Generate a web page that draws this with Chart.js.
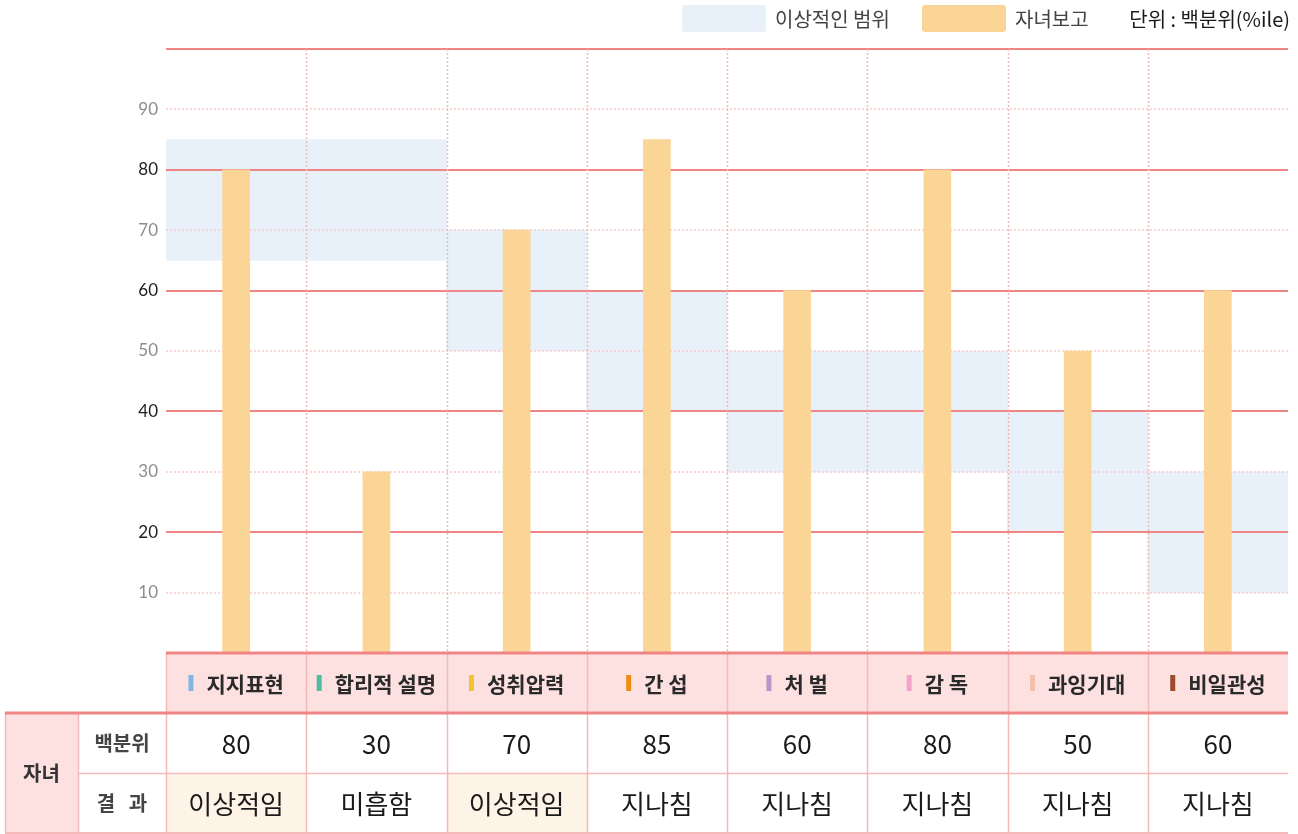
<!DOCTYPE html>
<html>
<head>
<meta charset="utf-8">
<script src="https://cdn.jsdelivr.net/npm/chart.js@4.4.1/dist/chart.umd.min.js"></script>
<style>
  html, body { margin: 0; padding: 0; background: #fff; }
  canvas { display: block; }
</style>
</head>
<body>
<canvas id="chart" width="1298" height="834"></canvas>
<script>
// data
const categories = ['지지표현', '합리적 설명', '성취압력', '간 섭', '처 벌', '감 독', '과잉기대', '비일관성'];
const markerColors = ['#7fb6e4', '#52bba6', '#f5c232', '#f08c12', '#b797cb', '#f3a3c9', '#f6bfa9', '#9b4c2f'];
const childValues = [80, 30, 70, 85, 60, 80, 50, 60];
const idealLow = [65, 65, 50, 40, 30, 30, 20, 10];
const idealHigh = [85, 85, 70, 60, 50, 50, 40, 30];
const results = ['이상적임', '미흡함', '이상적임', '지나침', '지나침', '지나침', '지나침', '지나침'];
const legendLabels = ['이상적인 범위', '자녀보고'];
const unitLabel = '단위 : 백분위(%ile)';
const rowLabels = ['백분위', '결   과'];
const groupLabel = '자녀';

const KR = '"Noto Sans CJK KR", "Noto Sans", sans-serif';
const RED = '#ef8585';
const PINK = '#f5b9b9';

// grid lines, drawn right after the range bands so bars sit on top
const gridPlugin = {
  id: 'gridLines',
  afterDatasetDraw(chart, args) {
    if (args.index !== 0) return;
    const { ctx, chartArea: a, scales: { x, y } } = chart;
    ctx.save();
    for (let v = 10; v <= 100; v += 10) {
      const py = Math.round(y.getPixelForValue(v));
      ctx.beginPath();
      if (v % 20 === 0) {
        ctx.strokeStyle = RED; ctx.lineWidth = 2; ctx.setLineDash([]);
      } else {
        ctx.strokeStyle = '#f7cccc'; ctx.lineWidth = 1.5; ctx.setLineDash([2, 2]);
      }
      ctx.moveTo(a.left, py); ctx.lineTo(a.right, py);
      ctx.stroke();
    }
    ctx.strokeStyle = '#f3b8b8'; ctx.lineWidth = 1.5; ctx.setLineDash([2, 2]);
    for (let i = 0; i < categories.length - 1; i++) {
      const px = Math.round((x.getPixelForValue(i) + x.getPixelForValue(i + 1)) / 2) + 0.5;
      ctx.beginPath();
      ctx.moveTo(px, a.top); ctx.lineTo(px, a.bottom);
      ctx.stroke();
    }
    ctx.restore();
  }
};

// legend on top and the table under the plot
const tablePlugin = {
  id: 'tableAndLegend',
  afterDraw(chart) {
    const { ctx, chartArea: a, scales: { x } } = chart;
    const bounds = [a.left];
    for (let i = 0; i < categories.length - 1; i++) {
      bounds.push((x.getPixelForValue(i) + x.getPixelForValue(i + 1)) / 2);
    }
    bounds.push(a.right);
    const top = a.bottom, r1 = top + 60, r2 = r1 + 60, r3 = r2 + 60;
    const c0 = 5, c1 = 78;

    ctx.save();
    // backgrounds
    ctx.fillStyle = '#fde1e1';
    ctx.fillRect(a.left, top, a.right - a.left, r1 - top);
    ctx.fillRect(c0, r1, c1 - c0, r3 - r1);
    ctx.fillStyle = '#fdf4e7';
    results.forEach((t, i) => {
      if (t === '이상적임') ctx.fillRect(bounds[i], r2, bounds[i + 1] - bounds[i], r3 - r2);
    });

    // cell borders
    ctx.strokeStyle = PINK; ctx.lineWidth = 1.5;
    const vline = (px, y0, y1) => { ctx.beginPath(); ctx.moveTo(px, y0); ctx.lineTo(px, y1); ctx.stroke(); };
    const hline = (py, x0, x1) => { ctx.beginPath(); ctx.moveTo(x0, py); ctx.lineTo(x1, py); ctx.stroke(); };
    for (let i = 1; i < bounds.length - 1; i++) vline(Math.round(bounds[i]) + 0.5, top, r3);
    vline(a.left + 0.5, top, r3);
    vline(c0 + 0.5, r1, r3);
    vline(c1 + 0.5, r1, r3);
    hline(r2 + 0.5, c1, a.right);
    ctx.lineWidth = 2;
    hline(r3, c0, a.right);
    ctx.strokeStyle = RED; ctx.lineWidth = 3;
    hline(top, a.left, a.right);
    hline(r1, c0, a.right);

    // header labels with colour markers
    ctx.textBaseline = 'middle';
    ctx.textAlign = 'left';
    ctx.font = 'bold 21px ' + KR;
    categories.forEach((c, i) => {
      const cx = (bounds[i] + bounds[i + 1]) / 2;
      const w = ctx.measureText(c).width;
      const start = cx - (w + 18) / 2;
      ctx.fillStyle = markerColors[i];
      ctx.fillRect(start, (top + r1) / 2 - 8, 5, 16);
      ctx.fillStyle = '#2a2a2a';
      ctx.fillText(c, start + 18, (top + r1) / 2 + 1);
    });

    // row labels
    ctx.textAlign = 'center';
    ctx.fillStyle = '#333';
    ctx.font = 'bold 20px ' + KR;
    ctx.fillText(groupLabel, (c0 + c1) / 2, (r1 + r3) / 2);
    ctx.fillStyle = '#444';
    ctx.fillText(rowLabels[0], (c1 + a.left) / 2, (r1 + r2) / 2);
    ctx.fillText(rowLabels[1], (c1 + a.left) / 2, (r2 + r3) / 2);

    // values and results
    ctx.fillStyle = '#1a1a1a';
    ctx.font = '26px ' + KR;
    childValues.forEach((v, i) => {
      const cx = (bounds[i] + bounds[i + 1]) / 2;
      ctx.fillText(String(v), cx, (r1 + r2) / 2 + 1);
      ctx.fillText(results[i], cx, (r2 + r3) / 2 + 1);
    });

    // legend
    ctx.textAlign = 'left';
    ctx.font = '20px ' + KR;
    const sw = [['#e8f0fa', 682, legendLabels[0]], ['#fbd595', 922, legendLabels[1]]];
    sw.forEach(([col, sx, label]) => {
      ctx.fillStyle = col;
      ctx.beginPath();
      ctx.roundRect(sx, 5, 84, 27, 3);
      ctx.fill();
      ctx.fillStyle = '#444';
      ctx.fillText(label, sx + 93, 19);
    });
    ctx.fillStyle = '#1a1a1a';
    ctx.textAlign = 'right';
    ctx.fillText(unitLabel, 1290, 19);
    ctx.restore();
  }
};

new Chart(document.getElementById('chart'), {
  type: 'bar',
  data: {
    labels: categories,
    datasets: [{
      label: legendLabels[0],
      data: idealLow.map((lo, i) => [lo, idealHigh[i]]),
      backgroundColor: '#e8f0fa',
      barPercentage: 1,
      categoryPercentage: 1,
      grouped: false,
      order: 2
    }, {
      label: legendLabels[1],
      data: childValues,
      backgroundColor: '#fbd595',
      barThickness: 27,
      grouped: false,
      order: 1
    }]
  },
  options: {
    responsive: false,
    animation: false,
    layout: { padding: { top: 49, right: 10, bottom: 181, left: 0 } },
    plugins: { legend: { display: false }, tooltip: { enabled: false } },
    scales: {
      x: { display: false },
      y: {
        min: 0,
        max: 100,
        afterFit(scale) { scale.width = 166; },
        grid: { display: false, drawTicks: false },
        border: { display: false },
        ticks: {
          stepSize: 10,
          padding: 8,
          font: { family: 'Lato, sans-serif', size: 17 },
          color: (c) => (c.tick.value % 20 === 0 ? '#222' : '#8c8c8c'),
          callback: (v) => (v === 0 || v === 100 ? '' : v)
        }
      }
    }
  },
  plugins: [gridPlugin, tablePlugin]
});
</script>
</body>
</html>
